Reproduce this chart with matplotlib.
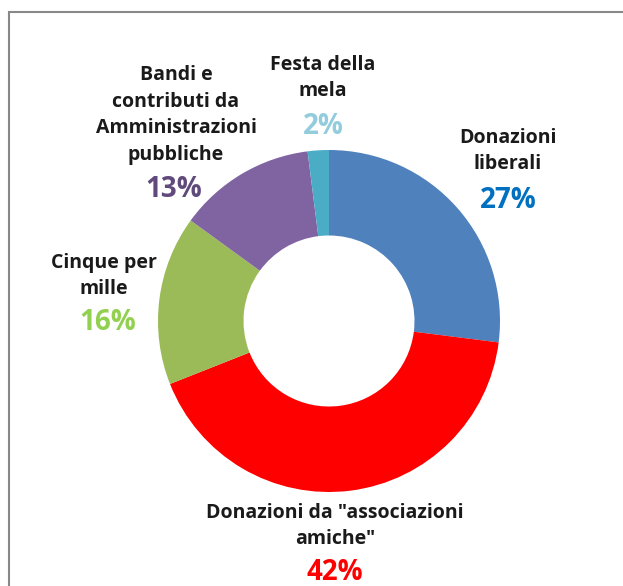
import matplotlib.pyplot as plt
from matplotlib.patches import Rectangle

plt.rcParams['font.family'] = ['Open Sans', 'DejaVu Sans']

# chart data
labels = ['Donazioni\nliberali', 'Donazioni da "associazioni\namiche"',
          'Cinque per\nmille', 'Bandi e\ncontributi da\nAmministrazioni\npubbliche',
          'Festa della\nmela']
values = [27, 42, 16, 13, 2]
slice_colors = ['#4F81BD', '#FF0000', '#9BBB59', '#8064A2', '#4BACC6']
pct_colors = ['#0070C0', '#FF0000', '#92D050', '#604A7B', '#93CDDD']

# label positions in pixels (name centre, percent centre)
W, H = 623, 586
cx, cy, R = 329, 321, 171
name_pos = [(508, 151), (335, 526), (104, 276), (176, 115), (323, 78)]
pct_pos = [(508, 201), (335, 573), (108, 323), (174, 190), (323, 127)]

fig = plt.figure(figsize=(W / 100, H / 100), dpi=100)
ax = fig.add_axes([0, 0, 1, 1])

ax.pie(values, colors=slice_colors, startangle=90, counterclock=False,
       radius=1, wedgeprops=dict(width=0.5, edgecolor='none'))

ax.set_xlim(-cx / R, (W - cx) / R)
ax.set_ylim(-(H - cy) / R, cy / R)
ax.set_aspect('equal')
ax.axis('off')

def px(x, y):
    return (x - cx) / R, (cy - y) / R

for lab, (nx, ny), pc, (qx, qy), v in zip(labels, name_pos, pct_colors, pct_pos, values):
    ax.text(*px(nx, ny), lab, ha='center', va='center', fontsize=14,
            fontweight='bold', color='#1a1a1a', linespacing=1.45)
    ax.text(*px(qx, qy), f'{v}%', ha='center', va='center', fontsize=20,
            fontweight='bold', color=pc)

# chart frame
fig.patches.append(Rectangle((9 / W, -0.1), 1.0, 1.1 - 12 / H, transform=fig.transFigure,
                             fill=False, edgecolor='#888888', linewidth=1.5))

fig.savefig('out.png', dpi=100)
